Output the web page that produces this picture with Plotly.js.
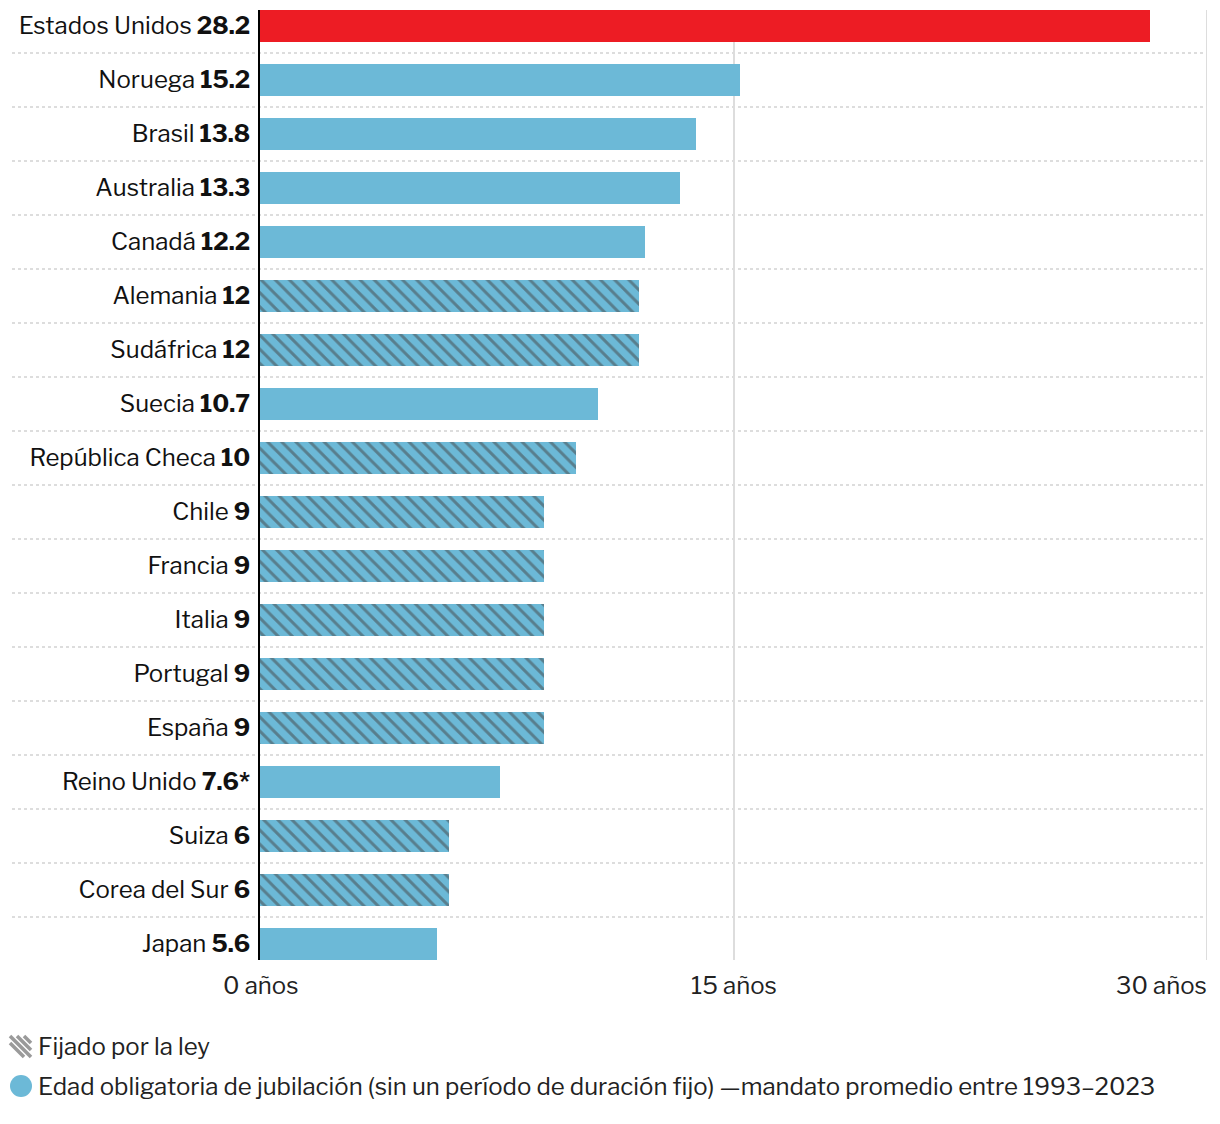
<!DOCTYPE html>
<html>
<head>
<meta charset="utf-8">
<script src="https://cdn.plot.ly/plotly-3.0.1.min.js"></script>
<style>
html,body{margin:0;padding:0;background:#fff;}
#chart{width:1220px;height:1124px;}
</style>
</head>
<body>
<div id="chart"></div>
<script>
const countries = ['Estados Unidos','Noruega','Brasil','Australia','Canadá','Alemania','Sudáfrica','Suecia','República Checa','Chile','Francia','Italia','Portugal','España','Reino Unido','Suiza','Corea del Sur','Japan'];
const values = [28.2,15.2,13.8,13.3,12.2,12,12,10.7,10,9,9,9,9,9,7.6,6,6,5.6];
const valueLabels = ['28.2','15.2','13.8','13.3','12.2','12','12','10.7','10','9','9','9','9','9','7.6*','6','6','5.6'];
const fixedByLaw = [false,false,false,false,false,true,true,false,true,true,true,true,true,true,false,true,true,false];
const highlight = 'Estados Unidos';
const xTicks = [0,15,30];
const xTickLabels = ['0 años','15 años','30 años'];
const legendLabels = ['Fijado por la ley','Edad obligatoria de jubilación (sin un período de duración fijo) —mandato promedio entre 1993–2023'];

const RED = '#ed1c24', BLUE = '#6cb9d7', GRAY = '#84919a';
const FONT = 'Libre Franklin, Roboto, Arial, sans-serif';
const FS = 24;

const W = 1220, H = 1124;
const M = {l:260, r:13, t:10, b:164};
const PW = W - M.l - M.r, PH = H - M.t - M.b;
const px2x = p => (p - M.l) / PW;
const py2y = p => (H - M.b - p) / PH;

const n = countries.length;
const barW = 0.5926;
const idx = countries.map((_, i) => i);

const trace = {
  type: 'bar',
  orientation: 'h',
  y: idx,
  x: values,
  width: barW,
  marker: {
    color: countries.map(c => c === highlight ? RED : BLUE),
    line: {width: 0},
    pattern: {
      shape: fixedByLaw.map(f => f ? '\\' : ''),
      fgcolor: fixedByLaw.map(() => GRAY),
      bgcolor: countries.map(c => c === highlight ? RED : BLUE),
      size: 10,
      solidity: 0.3,
      fillmode: 'overlay'
    }
  },
  hoverinfo: 'skip'
};

const shapes = [];
for (let i = 0; i < n - 1; i++) {
  shapes.push({type:'line', xref:'paper', yref:'y', x0:px2x(12), x1:px2x(1205), y0:i+0.5, y1:i+0.5,
    line:{color:'#d2d2d2', width:1.5, dash:'dot'}, layer:'below'});
}
// gridline at right edge
shapes.push({type:'line', xref:'x', yref:'paper', x0:30, x1:30, y0:0, y1:1,
  line:{color:'#dddddd', width:2}, layer:'below'});
// legend icons
const hx0 = 10, hy0 = 1036, hs = 21;
for (let k = 0; k < 4; k++) {
  const o = k * 7 - 7;
  let ax = hx0 + o, ay = hy0, bx = hx0 + o + hs, by = hy0 + hs;
  if (ax < hx0) { ay += (hx0 - ax); ax = hx0; }
  if (bx > hx0 + hs) { by -= (bx - hx0 - hs); bx = hx0 + hs; }
  shapes.push({type:'line', xref:'paper', yref:'paper', x0:px2x(ax), y0:py2y(ay), x1:px2x(bx), y1:py2y(by),
    line:{color:'#9a9a9a', width:3.5}});
}
shapes.push({type:'circle', xref:'paper', yref:'paper', x0:px2x(10), x1:px2x(32), y0:py2y(1075), y1:py2y(1097),
  fillcolor:BLUE, line:{width:0}});

const annotations = [];
xTicks.forEach((v, i) => {
  annotations.push({xref:'x', yref:'paper', x:v, y:0, yshift:-9, yanchor:'top',
    xanchor: i === xTicks.length - 1 ? 'right' : 'center', xshift: i === xTicks.length - 1 ? 2 : 0,
    text:xTickLabels[i], showarrow:false, font:{family:FONT, size:FS, color:'#222'}});
});
annotations.push({xref:'paper', yref:'paper', x:px2x(36), y:py2y(1046), xanchor:'left', yanchor:'middle',
  text:legendLabels[0], showarrow:false, font:{family:FONT, size:FS, color:'#222'}});
annotations.push({xref:'paper', yref:'paper', x:px2x(36), y:py2y(1086), xanchor:'left', yanchor:'middle',
  text:legendLabels[1], showarrow:false, font:{family:FONT, size:FS, color:'#222'}});

const layout = {
  width: W, height: H,
  margin: M,
  paper_bgcolor:'#fff', plot_bgcolor:'#fff',
  showlegend:false,
  bargap: 0,
  xaxis: {
    range:[0,30], tickvals:xTicks, showticklabels:false,
    showgrid:true, gridcolor:'#dddddd', gridwidth:2, zeroline:false, showline:false, fixedrange:true
  },
  yaxis: {
    range:[n - 1 + barW/2, -barW/2], tickvals:idx,
    ticktext: countries.map((c, i) => c + ' <b>' + valueLabels[i] + '</b>'),
    ticks:'outside', ticklen:3, tickcolor:'rgba(0,0,0,0)',
    tickfont:{family:FONT, size:FS, color:'#111'},
    showline:true, linecolor:'#000', linewidth:2, showgrid:false, zeroline:false, fixedrange:true
  },
  shapes: shapes,
  annotations: annotations,
  font:{family:FONT}
};

Plotly.newPlot('chart', [trace], layout, {displayModeBar:false, staticPlot:true});
</script>
</body>
</html>
